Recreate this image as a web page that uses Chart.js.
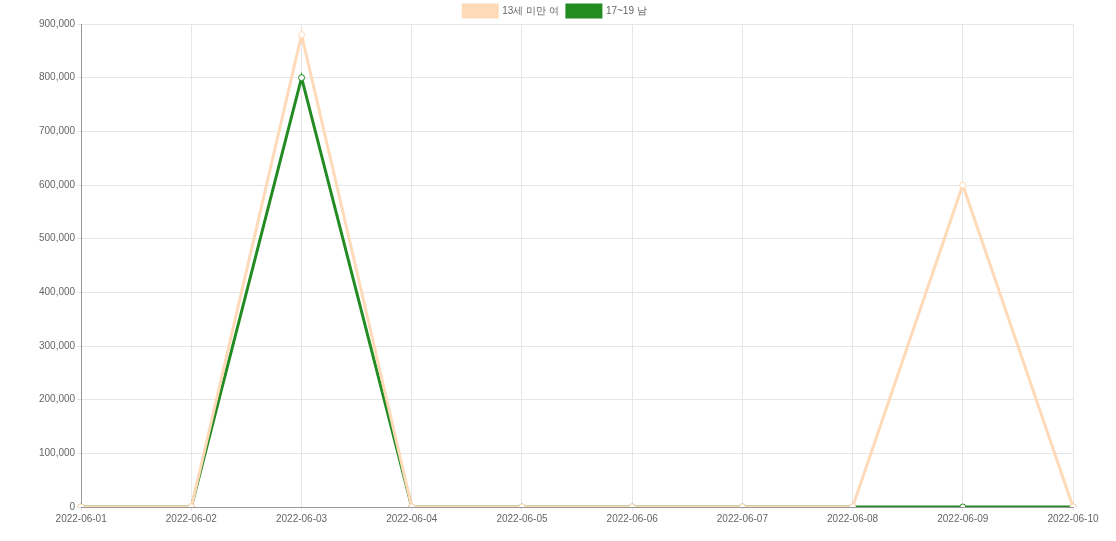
<!DOCTYPE html>
<html>
<head>
<meta charset="utf-8">
<script src="https://cdn.jsdelivr.net/npm/chart.js@4/dist/chart.umd.min.js"></script>
<style>
  html, body { margin: 0; padding: 0; background: #fff; }
  #wrap { width: 1116px; height: 541px; }
</style>
</head>
<body>
<div id="wrap"><canvas id="chart"></canvas></div>
<script>
// dates on x axis
const dates = [
  "2022-06-01", "2022-06-02", "2022-06-03", "2022-06-04", "2022-06-05",
  "2022-06-06", "2022-06-07", "2022-06-08", "2022-06-09", "2022-06-10"
];
const girlsUnder13 = [0, 0, 880000, 0, 0, 0, 0, 0, 600000, 0];
const boys17to19 = [0, 0, 800000, 0, 0, 0, 0, 0, 0, 0];

Chart.defaults.font.family = "'Liberation Sans', Arial, sans-serif";
Chart.defaults.font.size = 10;
Chart.defaults.color = "#666";

new Chart(document.getElementById("chart"), {
  type: "line",
  data: {
    labels: dates,
    datasets: [
      {
        label: "13세 미만 여",
        data: girlsUnder13,
        borderColor: "#ffdab9",
        backgroundColor: "#ffdab9",
        pointBackgroundColor: "#fff",
        borderWidth: 3,
        pointRadius: 3,
        pointBorderWidth: 1,
        tension: 0,
        fill: false,
      },
      {
        label: "17~19 남",
        data: boys17to19,
        borderColor: "#228b22",
        backgroundColor: "#228b22",
        pointBackgroundColor: "#fff",
        borderWidth: 3,
        pointRadius: 3,
        pointBorderWidth: 1,
        tension: 0,
        fill: false,
      },
    ],
  },
  options: {
    responsive: true,
    maintainAspectRatio: false,
    animation: false,
    layout: { padding: { left: 37, right: 43, top: -3, bottom: 14 } },
    plugins: {
      legend: {
        display: true,
        maxHeight: 27,
        labels: { boxWidth: 34, boxHeight: 12, padding: 8, font: { size: 10 } },
      },
      tooltip: { enabled: false },
    },
    scales: {
      x: {
        grid: { color: "#e6e6e6", tickLength: 4 },
        border: { color: "#999" },
        ticks: { maxRotation: 0, padding: 2 },
      },
      y: {
        min: 0,
        max: 900000,
        grid: { color: "#e6e6e6", tickLength: 4 },
        border: { color: "#999" },
        ticks: {
          stepSize: 100000,
          padding: 2,
          callback: (v) => v.toLocaleString("en-US"),
        },
      },
    },
  },
});
</script>
</body>
</html>
